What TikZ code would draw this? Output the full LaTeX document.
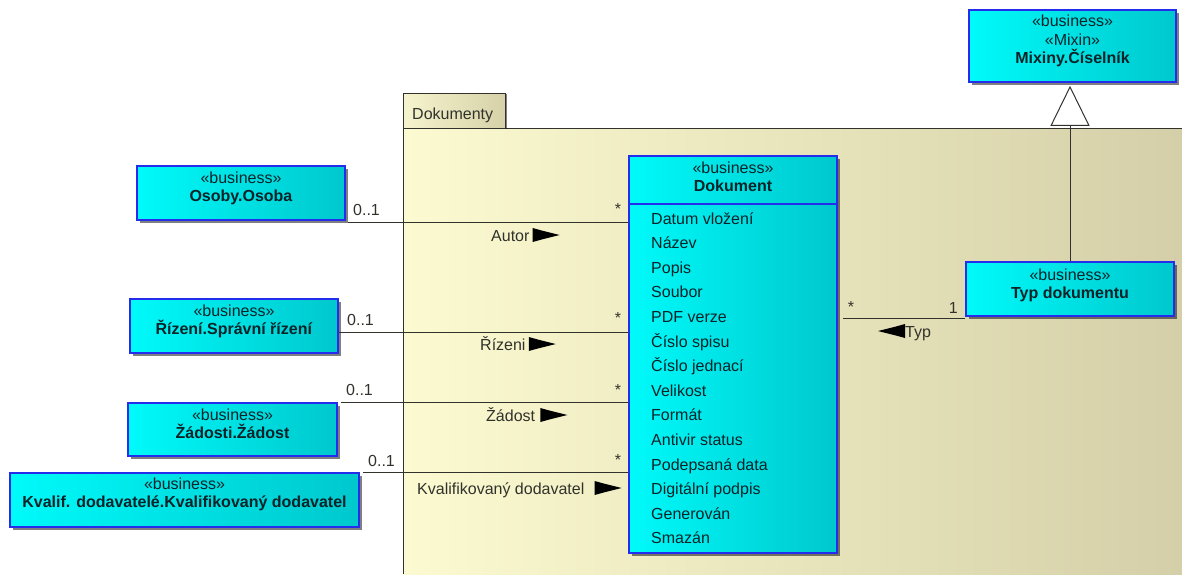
\documentclass[tikz,border=0pt]{standalone}
\usepackage{fontspec}
\setmainfont{Liberation Sans}
\usetikzlibrary{positioning,shadows,arrows.meta}

\definecolor{pkgleft}{RGB}{252,250,208}
\definecolor{pkgright}{RGB}{212,207,168}
\definecolor{tableft}{RGB}{246,244,206}
\definecolor{tabright}{RGB}{214,209,168}
\definecolor{clsleft}{RGB}{0,250,250}
\definecolor{clsright}{RGB}{0,200,205}
\definecolor{clsborder}{RGB}{35,45,235}
\definecolor{clstext}{RGB}{10,35,40}
\definecolor{linecol}{RGB}{50,50,45}

\tikzset{
  cls/.style={rectangle, draw=clsborder, line width=1.6pt, left color=clsleft, right color=clsright,
    drop shadow={shadow xshift=2.5pt, shadow yshift=-2.5pt, opacity=0.5, fill=black}, inner sep=0pt},
  clstitle/.style={anchor=north, align=center, inner sep=0pt, text=clstext, font=\fontsize{16}{18.5}\selectfont},
  assoc/.style={draw=linecol, line width=1pt},
  mult/.style={inner sep=0pt, text=linecol, font=\fontsize{16}{18}\selectfont},
  attr/.style={anchor=base west, inner sep=0pt, text=clstext, font=\fontsize{16}{18}\selectfont},
  flagr/.pic={\fill[black] (0,-7) -- (9,-4.5) -- (27,0) -- (9,4.5) -- (0,7) -- cycle;},
  flagl/.pic={\fill[black] (0,-7) -- (-9,-4.5) -- (-27,0) -- (-9,4.5) -- (0,7) -- cycle;},
}

\begin{document}
\begin{tikzpicture}[x=1pt, y=-1pt]
  \useasboundingbox (0,0) rectangle (1182,574);

  % package Dokumenty
  \fill[left color=pkgleft, right color=pkgright] (403,128) rectangle (1182,574);
  \draw[linecol, line width=1pt] (1182,128) -- (403,128) -- (403,574);
  \draw[linecol, line width=1pt, left color=tableft, right color=tabright,
    drop shadow={shadow xshift=2pt, shadow yshift=-1pt, opacity=0.5, fill=black}] (403,93) rectangle (505,128);
  \node[mult, anchor=base west] (pkg-t) at (412,119) {Dokumenty};

  % classes
  \node[cls, minimum width=208pt, minimum height=54pt] (osoba) at (241,193) {};
  \node[clstitle] (osoba-t) at ([yshift=-6pt]osoba.north) {«business»\\\textbf{Osoby.Osoba}};
  \node[cls, minimum width=208pt, minimum height=54pt] (rizeni) at (234,326) {};
  \node[clstitle] (rizeni-t) at ([yshift=-6pt]rizeni.north) {«business»\\\textbf{Řízení.Správní řízení}};
  \node[cls, minimum width=209pt, minimum height=53pt] (zadost) at (232.5,429.5) {};
  \node[clstitle] (zadost-t) at ([yshift=-6pt]zadost.north) {«business»\\\textbf{Žádosti.Žádost}};
  \node[cls, minimum width=349pt, minimum height=54pt] (kvalif) at (184.5,500) {};
  \node[clstitle] (kvalif-t) at ([yshift=-5pt]kvalif.north) {«business»\\\textbf{Kvalif. dodavatelé.Kvalifikovaný dodavatel}};
  \node[cls, minimum width=208pt, minimum height=54pt] (typ) at (1070,289) {};
  \node[clstitle] (typ-t) at ([yshift=-7pt]typ.north) {«business»\\\textbf{Typ dokumentu}};
  \node[cls, minimum width=207pt, minimum height=72pt] (mixin) at (1072.5,46) {};
  \node[clstitle] (mixin-t) at ([yshift=-6pt]mixin.north) {«business»\\«Mixin»\\\textbf{Mixiny.Číselník}};

  % Dokument with its attributes
  \node[cls, minimum width=208pt, minimum height=397pt] (dokument) at (733,354.5) {};
  \node[clstitle] (dokument-t) at ([yshift=-6pt]dokument.north) {«business»\\\textbf{Dokument}};
  \draw[clsborder, line width=1.6pt] ([yshift=-49pt]dokument.north west) -- ([yshift=-49pt]dokument.north east);
  \node[attr] (a1) at (651,224) {Datum vložení};
  \node[attr] (a2) at (651,248.6) {Název};
  \node[attr] (a3) at (651,273.2) {Popis};
  \node[attr] (a4) at (651,297.8) {Soubor};
  \node[attr] (a5) at (651,322.4) {PDF verze};
  \node[attr] (a6) at (651,347) {Číslo spisu};
  \node[attr] (a7) at (651,371.6) {Číslo jednací};
  \node[attr] (a8) at (651,396.2) {Velikost};
  \node[attr] (a9) at (651,420.8) {Formát};
  \node[attr] (a10) at (651,445.4) {Antivir status};
  \node[attr] (a11) at (651,470) {Podepsaná data};
  \node[attr] (a12) at (651,494.6) {Digitální podpis};
  \node[attr] (a13) at (651,519.2) {Generován};
  \node[attr] (a14) at (651,543.8) {Smazán};

  % associations
  \draw[assoc] ([xshift=2pt,yshift=-2pt]osoba.south east) -- ([yshift=-2pt]osoba.south east -| dokument.west);
  \draw[assoc] ([yshift=-6pt]rizeni.east) -- ([yshift=-6pt]rizeni.east -| dokument.west);
  \draw[assoc] ([xshift=3pt]zadost.north east) -- (zadost.north east -| dokument.west);
  \draw[assoc] ([xshift=3pt]kvalif.north east) -- (kvalif.north east -| dokument.west);
  \draw[assoc] ([yshift=-2pt]typ.south west) -- ([xshift=5pt,yshift=-2pt]typ.south west -| dokument.east);

  % generalization
  \draw[assoc, -{Triangle[length=40pt, width=39pt, fill=white]}, shorten >=3pt] (typ.north) -- (typ.north |- mixin.south);

  % multiplicities
  \node[mult, anchor=base west] (m-osoba) at (353,215) {0..1};
  \node[mult, anchor=base west] (m-rizeni) at (347,325) {0..1};
  \node[mult, anchor=base west] (m-zadost) at (346,395) {0..1};
  \node[mult, anchor=base west] (m-kvalif) at (368,466) {0..1};
  \node[mult, anchor=base] (s-osoba) at (618,214) {*};
  \node[mult, anchor=base] (s-rizeni) at (618,323) {*};
  \node[mult, anchor=base] (s-zadost) at (618,395) {*};
  \node[mult, anchor=base] (s-kvalif) at (618,465) {*};
  \node[mult, anchor=base] (s-typ) at (851,312) {*};
  \node[mult, anchor=base east] (m-typ) at (958,313) {1};

  % role names
  \node[mult, anchor=base west] (autor) at (491,241) {Autor};
  \pic at ([xshift=3pt,yshift=6pt]autor.base east) {flagr};
  \node[mult, anchor=base west] (rizeni-r) at (480,350) {Řízeni};
  \pic at ([xshift=3pt,yshift=6pt]rizeni-r.base east) {flagr};
  \node[mult, anchor=base west] (zadost-r) at (486,421) {Žádost};
  \pic at ([xshift=5pt,yshift=6pt]zadost-r.base east) {flagr};
  \node[mult, anchor=base west] (kvalif-r) at (417,494) {Kvalifikovaný dodavatel};
  \pic at ([xshift=10pt,yshift=6pt]kvalif-r.base east) {flagr};
  \node[mult, anchor=base west] (typ-r) at (905,337) {Typ};
  \pic at ([yshift=6pt]typ-r.base west) {flagl};
\end{tikzpicture}
\end{document}
